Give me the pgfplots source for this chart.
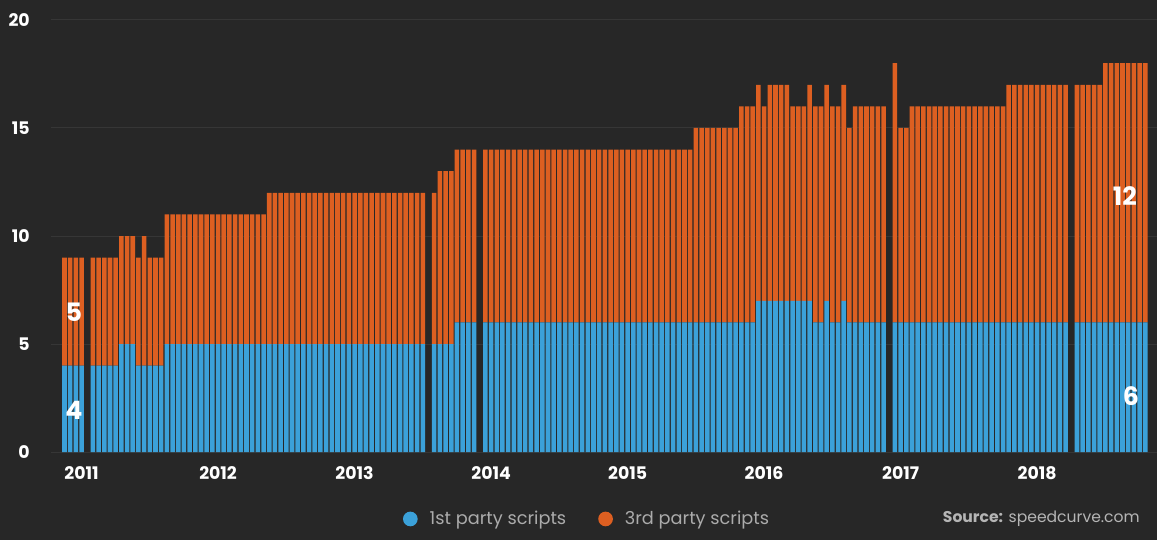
\documentclass[border=0pt]{standalone}
\usepackage{pgfplots}
\usepackage{pgfplotstable}
\pgfplotsset{compat=1.18}
\usepackage{fontspec}
\setmainfont{Poppins}
\definecolor{bg}{HTML}{272727}
\definecolor{grd}{HTML}{363636}
\definecolor{blu}{HTML}{3BA1D9}
\definecolor{org}{HTML}{DD5F21}
\definecolor{lgt}{HTML}{ABABAB}
\definecolor{src}{HTML}{B5B5B5}
\pgfplotstableread{
x b o
0 4 5
1 4 5
2 4 5
3 4 5
5 4 5
6 4 5
7 4 5
8 4 5
9 4 5
10 5 5
11 5 5
12 5 5
13 4 5
14 4 6
15 4 5
16 4 5
17 4 5
18 5 6
19 5 6
20 5 6
21 5 6
22 5 6
23 5 6
24 5 6
25 5 6
26 5 6
27 5 6
28 5 6
29 5 6
30 5 6
31 5 6
32 5 6
33 5 6
34 5 6
35 5 6
36 5 7
37 5 7
38 5 7
39 5 7
40 5 7
41 5 7
42 5 7
43 5 7
44 5 7
45 5 7
46 5 7
47 5 7
48 5 7
49 5 7
50 5 7
51 5 7
52 5 7
53 5 7
54 5 7
55 5 7
56 5 7
57 5 7
58 5 7
59 5 7
60 5 7
61 5 7
62 5 7
63 5 7
65 5 7
66 5 8
67 5 8
68 5 8
69 6 8
70 6 8
71 6 8
72 6 8
74 6 8
75 6 8
76 6 8
77 6 8
78 6 8
79 6 8
80 6 8
81 6 8
82 6 8
83 6 8
84 6 8
85 6 8
86 6 8
87 6 8
88 6 8
89 6 8
90 6 8
91 6 8
92 6 8
93 6 8
94 6 8
95 6 8
96 6 8
97 6 8
98 6 8
99 6 8
100 6 8
101 6 8
102 6 8
103 6 8
104 6 8
105 6 8
106 6 8
107 6 8
108 6 8
109 6 8
110 6 8
111 6 9
112 6 9
113 6 9
114 6 9
115 6 9
116 6 9
117 6 9
118 6 9
119 6 10
120 6 10
121 6 10
122 7 10
123 7 9
124 7 10
125 7 10
126 7 10
127 7 10
128 7 9
129 7 9
130 7 9
131 7 10
132 6 10
133 6 10
134 7 10
135 6 10
136 6 10
137 7 10
138 6 9
139 6 10
140 6 10
141 6 10
142 6 10
143 6 10
144 6 10
146 6 12
147 6 9
148 6 9
149 6 10
150 6 10
151 6 10
152 6 10
153 6 10
154 6 10
155 6 10
156 6 10
157 6 10
158 6 10
159 6 10
160 6 10
161 6 10
162 6 10
163 6 10
164 6 10
165 6 10
166 6 11
167 6 11
168 6 11
169 6 11
170 6 11
171 6 11
172 6 11
173 6 11
174 6 11
175 6 11
176 6 11
178 6 11
179 6 11
180 6 11
181 6 11
182 6 11
183 6 12
184 6 12
185 6 12
186 6 12
187 6 12
188 6 12
189 6 12
190 6 12
}\datatab
\begin{document}
\begin{tikzpicture}
\fill[bg] (0,0) rectangle (867.75pt,405pt);
\begin{axis}[
  at={(38.25pt,66pt)}, anchor=south west,
  width=829.5pt, height=324pt, scale only axis,
  xmin=-2.37, xmax=192.07, ymin=0, ymax=20,
  enlargelimits=false,
  ybar stacked, bar width=0.8,
  axis line style={draw=none},
  major tick length=0pt,
  ymajorgrids, grid style={draw=grd, line width=0.75pt},
  ytick={0,5,10,15,20},
  xtick={3,27,51,75,99,123,147,171},
  xticklabels={2011,2012,2013,2014,2015,2016,2017,2018},
  tick label style={font=\fontsize{13}{15}\selectfont\bfseries, text=white},
  /pgf/number format/assume math mode=true,
  yticklabel style={inner sep=0pt, anchor=east, xshift=-15.75pt},
  xticklabel style={inner sep=0pt, anchor=north, yshift=-10.5pt},
  legend style={at={(axis description cs:0.485,-0.155)}, anchor=center,
    draw=none, fill=none, text=lgt, font=\fontsize{13.3}{15}\selectfont,
    /tikz/every odd column/.append style={column sep=7pt},
    /tikz/every even column/.append style={column sep=22pt}},
  legend columns=2,
]
\addplot[fill=blu, draw=none, legend image code/.code={\fill[blu] (0pt,0pt) circle (5.5pt);}] table[x=x,y=b]{\datatab};
\addlegendentry{1st party scripts}
\addplot[fill=org, draw=none, legend image code/.code={\fill[org] (0pt,0pt) circle (5.5pt);}] table[x=x,y=o]{\datatab};
\addlegendentry{3rd party scripts}
\coordinate (l5) at (axis cs:1.67,6.48);
\coordinate (l4) at (axis cs:1.67,1.94);
\coordinate (l12) at (axis cs:186.4,11.87);
\coordinate (l6) at (axis cs:187.5,2.6);
\end{axis}
\tikzset{lab/.style={text=white, font=\fontsize{19}{21}\selectfont\bfseries}}
\node[lab] at (l5) {5};
\node[lab] at (l4) {4};
\node[lab] at (l12) {12};
\node[lab] at (l6) {6};
\node[anchor=east, inner sep=0pt, text=src, font=\fontsize{11.7}{14}\selectfont] at (855pt,15.75pt) {\textbf{Source:} speedcurve.com};
\pgfresetboundingbox
\path (0,0) rectangle (867.75pt,405pt);
\end{tikzpicture}
\end{document}
